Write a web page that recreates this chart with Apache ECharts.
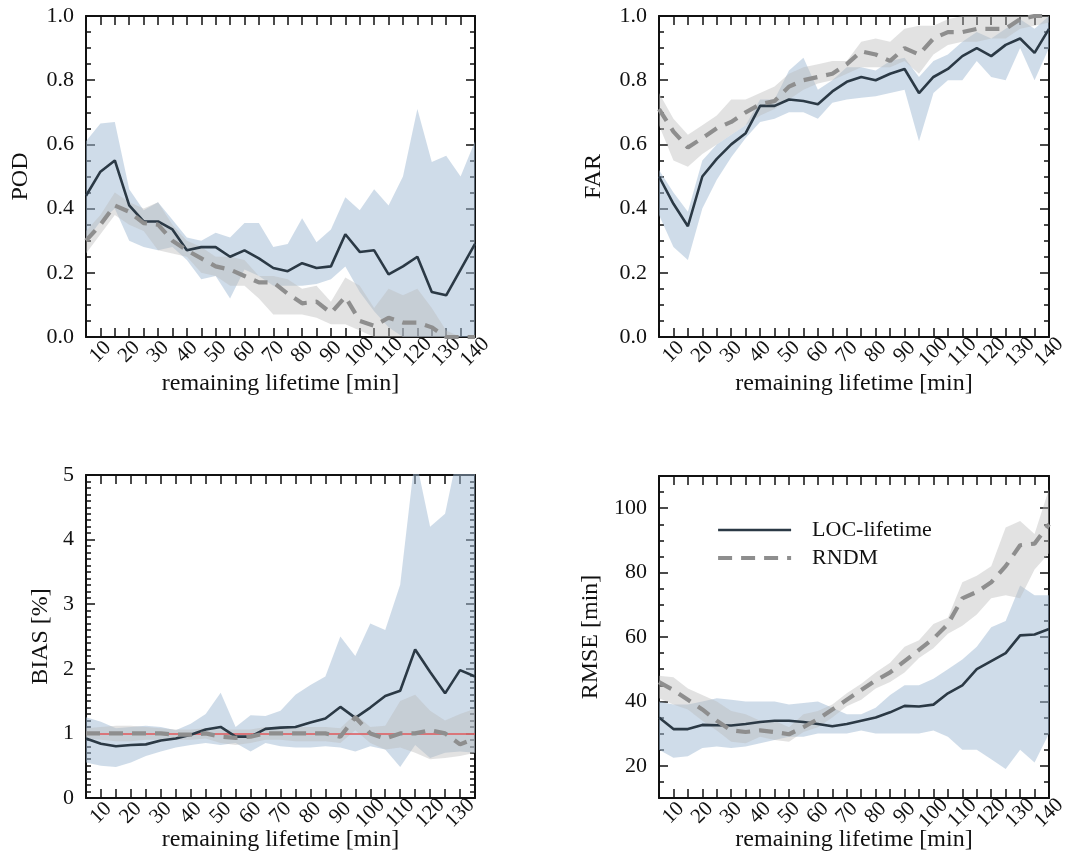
<!DOCTYPE html>
<html><head><meta charset="utf-8">
<script src="https://cdn.jsdelivr.net/npm/echarts@6/dist/echarts.min.js"></script>
<style>html,body{margin:0;padding:0;background:#fff}#c{width:1080px;height:864px}</style>
</head><body><div id="c"></div>
<script>
// ---------- data ----------
const minutes = [5,10,15,20,25,30,35,40,45,50,55,60,65,70,75,80,85,90,95,100,105,110,115,120,125,130,135,140];
const minutesBias = [5,10,15,20,25,30,35,40,45,50,55,60,65,70,75,80,85,90,95,100,105,110,115,120,125,130,135];
const xTickLabels = [10,20,30,40,50,60,70,80,90,100,110,120,130,140];
const rmseTickLabels = [20,40,60,80,100];

// POD
const podLoc   = [0.44,0.515,0.55,0.41,0.36,0.36,0.335,0.27,0.28,0.28,0.25,0.27,0.245,0.215,0.205,0.23,0.215,0.22,0.32,0.265,0.27,0.195,0.22,0.25,0.14,0.13,0.21,0.29];
const podLocHi = [0.61,0.665,0.67,0.46,0.395,0.42,0.365,0.31,0.30,0.325,0.31,0.355,0.355,0.28,0.29,0.37,0.295,0.335,0.435,0.395,0.46,0.41,0.50,0.71,0.545,0.565,0.50,0.61];
const podLocLo = [0.30,0.36,0.40,0.30,0.28,0.27,0.28,0.24,0.18,0.19,0.12,0.21,0.19,0.16,0.16,0.16,0.165,0.18,0.22,0.14,0.08,0.03,0.0,0.0,0.0,0.0,0.0,0.0];
const podRnd   = [0.30,0.35,0.41,0.39,0.355,0.35,0.30,0.27,0.245,0.22,0.21,0.19,0.17,0.17,0.135,0.105,0.11,0.075,0.125,0.05,0.035,0.06,0.045,0.045,0.03,0.0,0.0,0.0];
const podRndHi = [0.33,0.38,0.45,0.42,0.40,0.42,0.35,0.30,0.28,0.25,0.25,0.24,0.19,0.19,0.18,0.15,0.16,0.11,0.185,0.16,0.09,0.15,0.13,0.15,0.09,0.02,0.0,0.0];
const podRndLo = [0.26,0.32,0.38,0.35,0.33,0.27,0.26,0.25,0.20,0.19,0.16,0.16,0.12,0.07,0.07,0.07,0.06,0.04,0.04,0.02,0.0,0.0,0.0,0.0,0.0,0.0,0.0,0.0];

// FAR
const farLoc   = [0.50,0.415,0.345,0.50,0.555,0.60,0.635,0.72,0.72,0.74,0.735,0.725,0.765,0.795,0.81,0.80,0.82,0.835,0.76,0.81,0.835,0.875,0.90,0.875,0.91,0.93,0.885,0.96];
const farLocHi = [0.52,0.45,0.39,0.55,0.60,0.63,0.66,0.74,0.74,0.83,0.87,0.77,0.80,0.84,0.84,0.83,0.86,0.87,0.81,0.86,0.88,0.92,0.95,0.93,0.96,0.99,0.96,1.0];
const farLocLo = [0.38,0.28,0.24,0.40,0.49,0.56,0.62,0.67,0.68,0.70,0.70,0.68,0.73,0.74,0.745,0.75,0.76,0.77,0.61,0.76,0.80,0.80,0.86,0.81,0.80,0.90,0.80,0.90];
const farRnd   = [0.71,0.64,0.59,0.62,0.65,0.67,0.70,0.725,0.735,0.78,0.80,0.81,0.82,0.85,0.89,0.88,0.86,0.90,0.88,0.93,0.95,0.95,0.96,0.96,0.96,0.99,1.0,1.0];
const farRndHi = [0.76,0.68,0.63,0.66,0.69,0.74,0.74,0.76,0.78,0.82,0.84,0.85,0.86,0.86,0.92,0.93,0.92,0.96,0.97,0.97,0.99,1.0,1.0,1.0,1.0,1.0,1.0,1.0];
const farRndLo = [0.66,0.55,0.53,0.57,0.60,0.63,0.66,0.69,0.71,0.74,0.77,0.79,0.80,0.82,0.84,0.84,0.84,0.86,0.82,0.88,0.91,0.92,0.92,0.93,0.93,0.96,0.97,0.98];

// BIAS
const biasLoc   = [0.92,0.84,0.80,0.82,0.83,0.89,0.92,0.98,1.06,1.10,0.95,0.95,1.07,1.09,1.10,1.17,1.23,1.41,1.24,1.40,1.58,1.66,2.30,1.95,1.62,1.98,1.88];
const biasLocHi = [1.25,1.18,1.08,1.10,1.12,1.10,1.05,1.15,1.30,1.63,1.10,1.28,1.27,1.35,1.60,1.75,1.88,2.50,2.20,2.70,2.60,3.30,5.30,4.20,4.40,5.50,5.50];
const biasLocLo = [0.55,0.50,0.48,0.55,0.65,0.72,0.78,0.82,0.85,0.82,0.85,0.72,0.85,0.80,0.78,0.78,0.80,0.78,0.72,0.80,0.75,0.48,0.82,0.62,0.70,0.72,0.70];
const biasRnd   = [1.0,1.0,1.0,1.0,1.0,1.0,0.98,0.98,1.0,0.95,0.93,0.95,1.0,1.0,1.0,1.0,1.0,0.95,1.25,1.0,0.92,1.0,1.0,1.05,1.0,0.83,0.92];
const biasRndHi = [1.08,1.10,1.12,1.12,1.10,1.08,1.06,1.06,1.08,1.06,1.06,1.06,1.10,1.10,1.10,1.10,1.10,1.08,1.30,1.10,1.12,1.50,1.60,1.35,1.20,1.30,1.38];
const biasRndLo = [0.92,0.90,0.88,0.88,0.90,0.90,0.90,0.90,0.92,0.85,0.82,0.85,0.90,0.90,0.88,0.88,0.88,0.85,1.05,0.85,0.75,0.78,0.70,0.60,0.62,0.65,0.70];

// RMSE
const rmseLoc   = [35.0,31.4,31.4,32.7,32.6,32.5,33.0,33.6,34.0,34.0,33.6,33.0,32.3,33.0,34.0,35.0,36.6,38.6,38.4,39.0,42.5,45.0,50.0,52.5,55.0,60.5,60.8,62.5];
const rmseLocHi = [40,39,39,40,41,40.5,40,40,40,39,39.5,40,38,36,36,38,42,45,45,47,50,53,57,63,65,76,73,73];
const rmseLocLo = [25,22.5,23,25.5,26,25.5,26,27,28,29,29,30,30,30,31,30,30,30,30,31,29,25,25,22,19,25,21,30];
const rmseRnd   = [46,43.5,40.5,37.5,34,31,30.5,31,30.5,29.8,32,34.5,37.5,40.5,43.5,46.5,49,52.5,56,59.5,64,72,74,77,82,88.5,89,95];
const rmseRndHi = [48,47.5,44,42,40,37,36,34,34,32,36,37,39,42.5,45.5,49,52,57,59,64,66,77,79,82,94,96,92,106];
const rmseRndLo = [41,39,37.5,34,31,27.5,27,29,28,27.5,30.5,32,35,38.5,40.5,44,46,49,53.5,56.5,61,63.5,67,72,73,72,81,86];

// ---------- styling ----------
const FONT = 'Liberation Serif';
const INK = '#111';
const LINE_DARK = '#2b3945';
const DASH_GREY = '#8e8e8e';
const BAND_BLUE = 'rgba(160,185,212,0.5)';
const BAND_GREY = 'rgba(185,185,185,0.42)';

const panels = [
  { title:'POD', x:minutes, loc:podLoc, locLo:podLocLo, locHi:podLocHi, rnd:podRnd, rndLo:podRndLo, rndHi:podRndHi,
    grid:{left:86, top:16, width:389, height:321}, y:{min:0,max:1,interval:0.2,minorSplit:4,fmt:v=>v.toFixed(1)},
    yNameGap:53, xNameGap:35 },
  { title:'FAR', x:minutes, loc:farLoc, locLo:farLocLo, locHi:farLocHi, rnd:farRnd, rndLo:farRndLo, rndHi:farRndHi,
    grid:{left:659, top:16, width:390, height:321}, y:{min:0,max:1,interval:0.2,minorSplit:4,fmt:v=>v.toFixed(1)},
    yNameGap:53, xNameGap:35 },
  { title:'BIAS [%]', x:minutesBias, loc:biasLoc, locLo:biasLocLo, locHi:biasLocHi, rnd:biasRnd, rndLo:biasRndLo, rndHi:biasRndHi,
    grid:{left:86, top:475, width:389, height:323}, y:{min:0,max:5,interval:1,minorSplit:10,fmt:v=>String(v)},
    yNameGap:33, xNameGap:30, refLine:1 },
  { title:'RMSE [min]', x:minutes, loc:rmseLoc, locLo:rmseLocLo, locHi:rmseLocHi, rnd:rmseRnd, rndLo:rmseRndLo, rndHi:rmseRndHi,
    grid:{left:659, top:476, width:390, height:322}, y:{min:10,max:110,interval:5,custom:rmseTickLabels,fmt:v=>String(v)},
    yNameGap:56, xNameGap:30 }
];

const grids = [], xAxes = [], yAxes = [], series = [];
const frameLine = {show:true, onZero:false, lineStyle:{color:INK, width:2}};
const noLine = {show:false, onZero:false};
const tickLine = {color:INK, width:1.5};
const MAJOR = 9, MINOR = 5;
// "tick-only" axes are placed on the opposite edge (via offset) so their
// outward ticks point into the plot area, like the reference's inner ticks.
const flip = {left:'right', right:'left', top:'bottom', bottom:'top'};

panels.forEach((p, i) => {
  grids.push(Object.assign({containLabel:false}, p.grid));
  const W = p.grid.width, H = p.grid.height;
  const xi = xAxes.length;
  const xCommon = {gridIndex:i, type:'category', data:p.x, boundaryGap:false, splitLine:{show:false}};
  // bottom axis with labels + name (series bind to this one)
  xAxes.push(Object.assign({}, xCommon, {
    position:'bottom', axisLine:frameLine, axisTick:{show:false},
    axisLabel:{show:true, interval:0, hideOverlap:false,
      formatter:(val) => xTickLabels.indexOf(Number(val)) >= 0 ? String(val) : '',
      rotate:45, align:'center', verticalAlign:'middle', margin:15,
      fontFamily:FONT, fontSize:21, color:INK},
    name:'remaining lifetime [min]', nameLocation:'middle', nameGap:p.xNameGap, nameMoveOverlap:false,
    nameTextStyle:{fontFamily:FONT, fontSize:24, color:INK, verticalAlign:'top'}
  }));
  // top frame line
  xAxes.push(Object.assign({}, xCommon, {position:'top', axisLine:frameLine, axisTick:{show:false}, axisLabel:{show:false}}));
  // inward ticks on bottom and top edges
  ['bottom','top'].forEach(edge => xAxes.push(Object.assign({}, xCommon, {
    position:flip[edge], offset:-H, axisLine:noLine,
    axisTick:{show:true, inside:false, length:MAJOR, interval:0, lineStyle:tickLine},
    axisLabel:{show:false}
  })));

  const yi = yAxes.length;
  const yc = p.y;
  const yCommon = {gridIndex:i, type:'value', min:yc.min, max:yc.max, interval:yc.interval, splitLine:{show:false}};
  yAxes.push(Object.assign({}, yCommon, {
    position:'left', axisLine:frameLine, axisTick:{show:false},
    axisLabel:Object.assign({show:true, margin:12, fontFamily:FONT, fontSize:22, color:INK, formatter:yc.fmt,
      showMinLabel:true, showMaxLabel:true}, yc.custom ? {customValues:yc.custom} : {}),
    name:p.title, nameLocation:'middle', nameGap:p.yNameGap, nameMoveOverlap:false,
    nameTextStyle:{fontFamily:FONT, fontSize:24, color:INK}
  }));
  yAxes.push(Object.assign({}, yCommon, {position:'right', axisLine:frameLine, axisTick:{show:false}, axisLabel:{show:false}}));
  ['left','right'].forEach(edge => {
    const major = Object.assign({}, yCommon, {
      position:flip[edge], offset:-W, axisLine:noLine,
      axisTick:Object.assign({show:true, inside:false, length:MAJOR, lineStyle:tickLine}, yc.custom ? {customValues:yc.custom} : {}),
      axisLabel:{show:false}
    });
    if (yc.minorSplit) major.minorTick = {show:true, splitNumber:yc.minorSplit, length:MINOR, lineStyle:tickLine};
    yAxes.push(major);
    if (yc.custom) {
      yAxes.push(Object.assign({}, yCommon, {
        position:flip[edge], offset:-W, axisLine:noLine,
        axisTick:{show:true, inside:false, length:MINOR, lineStyle:tickLine},
        axisLabel:{show:false}
      }));
    }
  });

  const base = {type:'line', xAxisIndex:xi, yAxisIndex:yi, symbol:'none', silent:true, animation:false};
  // blue band (LOC-lifetime spread)
  series.push(Object.assign({}, base, {name:'locLo'+i, stack:'blue'+i, data:p.locLo,
    lineStyle:{opacity:0}, z:1}));
  series.push(Object.assign({}, base, {name:'locBand'+i, stack:'blue'+i,
    data:p.locHi.map((h, k) => +(h - p.locLo[k]).toFixed(4)),
    lineStyle:{opacity:0}, areaStyle:{color:BAND_BLUE, opacity:1}, z:1}));
  // grey band (RNDM spread)
  series.push(Object.assign({}, base, {name:'rndLo'+i, stack:'grey'+i, data:p.rndLo,
    lineStyle:{opacity:0}, z:2}));
  series.push(Object.assign({}, base, {name:'rndBand'+i, stack:'grey'+i,
    data:p.rndHi.map((h, k) => +(h - p.rndLo[k]).toFixed(4)),
    lineStyle:{opacity:0}, areaStyle:{color:BAND_GREY, opacity:1}, z:2}));
  // solid LOC-lifetime
  series.push(Object.assign({}, base, {name:'LOC-lifetime', data:p.loc,
    lineStyle:{color:LINE_DARK, width:2.6}, itemStyle:{color:LINE_DARK}, z:5}));
  // dashed RNDM
  const dashed = Object.assign({}, base, {name:'RNDM', data:p.rnd,
    lineStyle:{color:DASH_GREY, width:4.2, type:[14,9], cap:'butt'}, itemStyle:{color:DASH_GREY}, z:6});
  if (p.refLine !== undefined) {
    dashed.markLine = {silent:true, symbol:'none', label:{show:false}, animation:false,
      lineStyle:{color:'#e0575a', width:1.6, type:'solid'}, data:[{yAxis:p.refLine}]};
  }
  series.push(dashed);
});

const chart = echarts.init(document.getElementById('c'), null, {renderer:'canvas'});
chart.setOption({
  animation:false,
  backgroundColor:'#fff',
  textStyle:{fontFamily:FONT},
  grid:grids, xAxis:xAxes, yAxis:yAxes, series:series,
  legend:{
    data:['LOC-lifetime','RNDM'], orient:'vertical', left:711, top:514,
    itemWidth:73, itemHeight:14, itemGap:6, selectedMode:false,
    itemStyle:{opacity:0},
    lineStyle:{width:'inherit'},
    textStyle:{fontFamily:FONT, fontSize:22, color:INK, padding:[0,0,0,16]}
  }
});
</script>
</body></html>
